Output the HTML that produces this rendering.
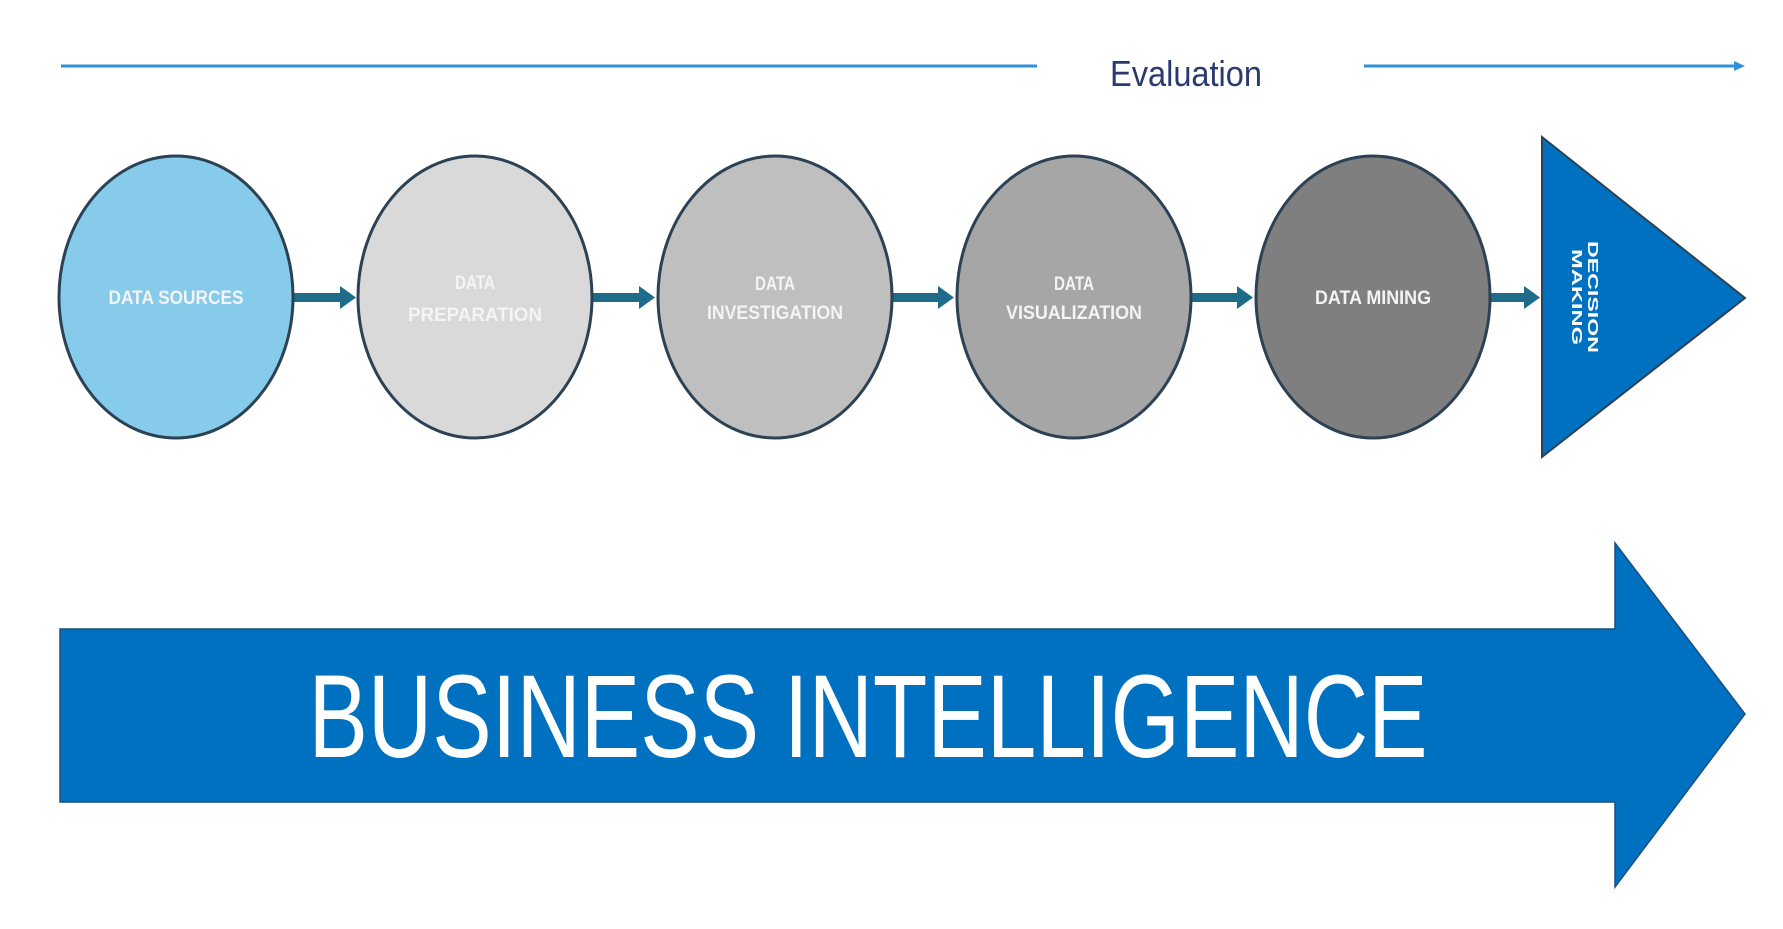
<!DOCTYPE html>
<html><head><meta charset="utf-8"><style>html,body{margin:0;padding:0;background:#fff}svg{display:block}</style></head>
<body>
<svg width="1783" height="929" viewBox="0 0 1783 929" xmlns="http://www.w3.org/2000/svg" font-family="Liberation Sans, sans-serif">
<line x1="61" y1="66" x2="1037" y2="66" stroke="#2f8fd8" stroke-width="3"/>
<line x1="1364" y1="66" x2="1739" y2="66" stroke="#2f8fd8" stroke-width="3"/>
<polygon points="1745,66 1734,61 1734,71" fill="#2f8fd8"/>
<text x="1186" y="86" font-size="36" fill="#2a3a6e" text-anchor="middle" textLength="152" lengthAdjust="spacingAndGlyphs">Evaluation</text>
<g fill="#1f6b8a">
<g id="a"><rect x="294" y="293" width="48" height="9"/><polygon points="340,286 356,297.5 340,309"/></g>
<use href="#a" x="299"/><use href="#a" x="598"/><use href="#a" x="897"/>
<rect x="1491" y="293" width="34" height="9"/><polygon points="1524,286 1540,297.5 1524,309"/>
</g>
<g stroke="#2c4254" stroke-width="3">
<ellipse cx="176" cy="297" rx="117" ry="141" fill="#87cbeb"/>
<ellipse cx="475" cy="297" rx="117" ry="141" fill="#d9d9d9"/>
<ellipse cx="775" cy="297" rx="117" ry="141" fill="#bfbfbf"/>
<ellipse cx="1074" cy="297" rx="117" ry="141" fill="#a6a6a6"/>
<ellipse cx="1373" cy="297" rx="117" ry="141" fill="#7f7f7f"/>
<polygon points="1542,137 1745,298 1542,457" fill="#0070c0" stroke-width="2"/>
</g>
<g font-weight="bold" font-size="19" fill="#f4f4f4" text-anchor="middle">
<text x="176" y="304" textLength="135" lengthAdjust="spacingAndGlyphs">DATA SOURCES</text>
<text x="475" y="289" textLength="40" lengthAdjust="spacingAndGlyphs">DATA</text>
<text x="475" y="321" textLength="134" lengthAdjust="spacingAndGlyphs">PREPARATION</text>
<text x="775" y="290" textLength="40" lengthAdjust="spacingAndGlyphs">DATA</text>
<text x="775" y="319" textLength="136" lengthAdjust="spacingAndGlyphs">INVESTIGATION</text>
<text x="1074" y="290" textLength="40" lengthAdjust="spacingAndGlyphs">DATA</text>
<text x="1074" y="319" textLength="136" lengthAdjust="spacingAndGlyphs">VISUALIZATION</text>
<text x="1373" y="304" textLength="116" lengthAdjust="spacingAndGlyphs">DATA MINING</text>
</g>
<g transform="translate(1586,297) rotate(90)" font-weight="bold" font-size="15" fill="#fff" text-anchor="middle">
<text x="0" y="-2" textLength="112" lengthAdjust="spacingAndGlyphs">DECISION</text>
<text x="0" y="14" textLength="96" lengthAdjust="spacingAndGlyphs">MAKING</text>
</g>
<polygon points="60,629 1615,629 1615,543 1745,714 1615,887 1615,802 60,802" fill="#0070c0" stroke="#1a4f80" stroke-width="1.5"/>
<text x="868" y="757" font-size="118" fill="#fff" text-anchor="middle" textLength="1119" lengthAdjust="spacingAndGlyphs">BUSINESS INTELLIGENCE</text>
</svg>
</body></html>
